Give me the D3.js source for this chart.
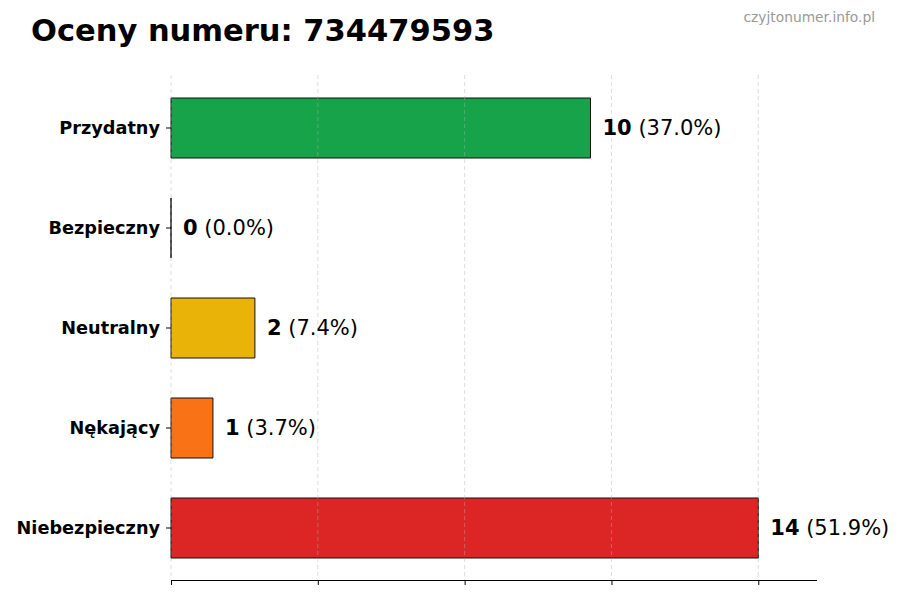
<!DOCTYPE html>
<html>
<head>
<meta charset="utf-8">
<script src="https://cdn.jsdelivr.net/npm/d3@7"></script>
<style>
  body { margin: 0; background: #fff; }
  svg { font-family: "DejaVu Sans", sans-serif; }
</style>
</head>
<body>
<div id="chart"></div>
<script>
const categories = ["Przydatny", "Bezpieczny", "Neutralny", "Nękający", "Niebezpieczny"];
const counts = [10, 0, 2, 1, 14];
const percents = ["37.0%", "0.0%", "7.4%", "3.7%", "51.9%"];
const barColors = ["#16a34a", "#2563eb", "#eab308", "#f97316", "#dc2626"];
const xTicks = [0, 3.5, 7, 10.5, 14];

const width = 900, height = 600;
const margin = {top: 78, right: 83, bottom: 20, left: 171};

const svg = d3.select("#chart")
    .append("svg")
    .attr("width", width)
    .attr("height", height);

const maxVal = d3.max(counts);
const x = d3.scaleLinear()
    .domain([0, maxVal * 1.1])
    .range([margin.left, width - margin.right]);

const y = d3.scaleBand()
    .domain(categories)
    .range([margin.top, margin.top + 500])
    .paddingInner(0.4)
    .paddingOuter(0.2);

const data = categories.map((c, i) => ({cat: c, value: counts[i], pct: percents[i], color: barColors[i]}));

// bars as paths so a zero bar still shows its edge
svg.selectAll(".bar")
    .data(data)
    .enter()
    .append("path")
    .attr("class", "bar")
    .attr("d", d => {
        const x0 = x(0), x1 = x(d.value), y0 = y(d.cat), y1 = y(d.cat) + y.bandwidth();
        return `M${x0},${y0}H${x1}V${y1}H${x0}Z`;
    })
    .attr("fill", d => d.color)
    .attr("stroke", "#111")
    .attr("stroke-width", 1);

// grid lines (over bars, faint)
svg.append("g")
    .selectAll("line")
    .data(xTicks)
    .enter()
    .append("line")
    .attr("x1", d => x(d))
    .attr("x2", d => x(d))
    .attr("y1", 75)
    .attr("y2", 580)
    .attr("stroke", "#b0b0b0")
    .attr("stroke-opacity", 0.55)
    .attr("stroke-dasharray", "4,3")
    .attr("stroke-width", 0.8);

// bottom axis
const xAxis = svg.append("g")
    .attr("transform", "translate(0,580)")
    .call(d3.axisBottom(x).tickValues(xTicks).tickFormat("").tickSize(5).tickSizeOuter(0));
xAxis.select(".domain").attr("stroke", "#000").attr("d", `M${x(0)},0.5H${x.range()[1]}`);
xAxis.selectAll(".tick line").attr("stroke", "#000");

// left axis (ticks + labels, no spine)
const yAxis = svg.append("g")
    .attr("transform", `translate(${margin.left},0)`)
    .call(d3.axisLeft(y).tickSize(5).tickPadding(6));
yAxis.select(".domain").remove();
yAxis.selectAll(".tick line").attr("stroke", "#000");
yAxis.selectAll(".tick text")
    .attr("fill", "#000")
    .style("font-size", "17.7px")
    .style("font-weight", "bold")
    .style("font-family", "'DejaVu Sans', sans-serif");

// value labels
const labels = svg.selectAll(".val")
    .data(data)
    .enter()
    .append("text")
    .attr("class", "val")
    .attr("x", d => x(d.value) + 12)
    .attr("y", d => y(d.cat) + y.bandwidth() / 2)
    .attr("dy", "0.35em")
    .style("font-size", "21px")
    .attr("fill", "#000");
labels.append("tspan").style("font-weight", "bold").text(d => d.value);
labels.append("tspan").text(d => " (" + d.pct + ")");

// title
svg.append("text")
    .attr("x", 31)
    .attr("y", 41)
    .style("font-size", "30.5px")
    .style("font-weight", "bold")
    .text("Oceny numeru: 734479593");

// watermark
svg.append("text")
    .attr("x", 875)
    .attr("y", 22)
    .attr("text-anchor", "end")
    .style("font-size", "13.8px")
    .attr("fill", "#999")
    .text("czyjtonumer.info.pl");
</script>
</body>
</html>
